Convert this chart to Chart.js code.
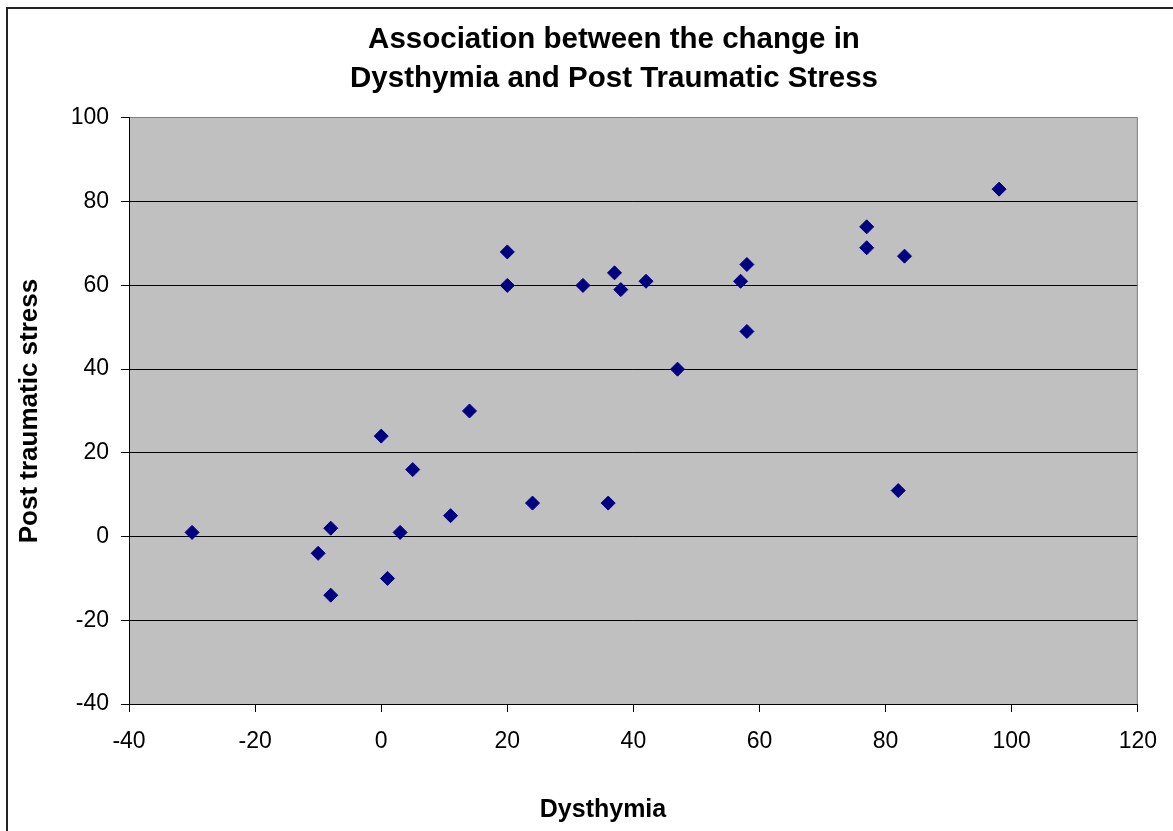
<!DOCTYPE html>
<html>
<head>
<meta charset="utf-8">
<script src="https://cdn.jsdelivr.net/npm/chart.js@4.4.1/dist/chart.umd.min.js"></script>
<style>
  body { margin: 0; background: #fff; }
  canvas { display: block; }
</style>
</head>
<body>
<canvas id="chart-scatter" width="1173" height="831"></canvas>
<script>
// valores
var dysthymia = [-30, -10, -8, -8, 0, 1, 3, 5, 11, 14, 20, 20, 24, 32, 36, 37, 38, 42, 47, 57, 58, 58, 77, 77, 83, 82, 98];
var posTraumatic = [1, -4, 2, -14, 24, -10, 1, 16, 5, 30, 68, 60, 8, 60, 8, 63, 59, 61, 40, 61, 65, 49, 74, 69, 67, 11, 83];
var tituloGrafico = ["Association between the change in", "Dysthymia and Post Traumatic Stress"];
var tituloX = "Dysthymia";
var tituloY = "Post traumatic stress";

var pontos = [];
for (let i = 0; i < dysthymia.length; i++) {
   pontos.push({ x: dysthymia[i], y: posTraumatic[i] });
}

const fonte = "'Liberation Sans', Arial, sans-serif";

// fundo cinza, moldura e titulo do eixo x
const molduraPlugin = {
   id: "moldura",
   afterLayout(chart) {
      if (chart.titleBlock) {
         chart.titleBlock.left += 44.5;
         chart.titleBlock.right += 44.5;
      }
   },
   beforeDraw(chart) {
      const ctx = chart.ctx;
      const a = chart.chartArea;
      ctx.save();
      ctx.fillStyle = "#fff";
      ctx.fillRect(0, 0, chart.width, chart.height);
      ctx.strokeStyle = "#222";
      ctx.lineWidth = 2;
      ctx.strokeRect(7, 8, chart.width + 20, chart.height + 20);
      ctx.fillStyle = "#C0C0C0";
      ctx.fillRect(a.left, a.top, a.right - a.left, a.bottom - a.top);
      ctx.restore();
   },
   afterDraw(chart) {
      const ctx = chart.ctx;
      const a = chart.chartArea;
      ctx.save();
      ctx.strokeStyle = "#808080";
      ctx.lineWidth = 1;
      ctx.beginPath();
      ctx.moveTo(a.right - 0.5, a.top);
      ctx.lineTo(a.right - 0.5, a.bottom);
      ctx.stroke();
      ctx.fillStyle = "#000";
      ctx.font = "bold 25px " + fonte;
      ctx.textAlign = "center";
      ctx.textBaseline = "middle";
      ctx.fillText(tituloX, 603, 810);
      ctx.restore();
   }
};

const ctxScatter = document.getElementById("chart-scatter");
new Chart(ctxScatter, {
   type: "scatter",
   data: {
      datasets: [
         {
            label: "Dysthymia x Post traumatic stress",
            data: pontos,
            backgroundColor: "#000080",
            borderColor: "#000080",
            borderWidth: 1,
            pointStyle: "rectRot",
            pointRadius: 7,
            pointHoverRadius: 7,
         },
      ],
   },
   options: {
      responsive: false,
      animation: false,
      layout: {
         padding: { left: 0, top: 0, right: 34, bottom: 0 },
      },
      plugins: {
         legend: { display: false },
         tooltip: { enabled: false },
         title: {
            display: true,
            text: tituloGrafico,
            color: "#000",
            font: { family: fonte, size: 29.5, weight: "bold", lineHeight: 1.322 },
            padding: { top: 20.5, bottom: 19.5 },
         },
      },
      scales: {
         x: {
            type: "linear",
            min: -40,
            max: 120,
            afterFit(scale) { scale.height = 127; },
            ticks: {
               stepSize: 20,
               color: "#000",
               padding: 16,
               maxRotation: 0,
               font: { family: fonte, size: 23 },
            },
            grid: {
               drawOnChartArea: false,
               drawTicks: true,
               tickLength: 8,
               tickColor: "#000",
            },
            border: { color: "#000", width: 1 },
         },
         y: {
            type: "linear",
            min: -40,
            max: 100,
            afterFit(scale) { scale.width = 129; },
            ticks: {
               stepSize: 20,
               color: "#000",
               padding: 12,
               font: { family: fonte, size: 23 },
            },
            grid: {
               color: function (c) { return c.tick && c.tick.value === 100 ? "#808080" : "#000"; },
               tickLength: 8,
               tickColor: "#000",
            },
            border: { color: "#000", width: 1 },
            title: {
               display: true,
               text: tituloY,
               color: "#000",
               font: { family: fonte, size: 26, weight: "bold", lineHeight: 1.2 },
               padding: { top: 14.5, bottom: 0 },
            },
         },
      },
   },
   plugins: [molduraPlugin],
});
</script>
</body>
</html>
